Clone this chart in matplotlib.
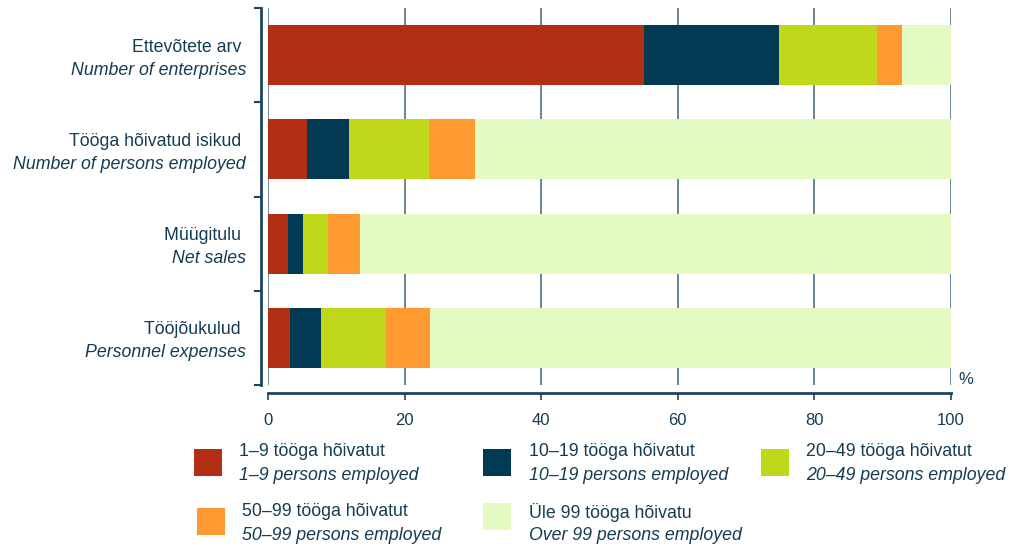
import matplotlib
matplotlib.use("Agg")
import matplotlib.pyplot as plt
from matplotlib.patches import Rectangle
import numpy as np

plt.rcParams['font.family'] = ['Liberation Sans', 'DejaVu Sans']

cats_et = ["Ettevõtete arv ", "Tööga hõivatud isikud ", "Müügitulu ", "Tööjõukulud "]
cats_en = ["Number of enterprises", "Number of persons employed", "Net sales", "Personnel expenses"]

series_et = ["1–9 tööga hõivatut", "10–19 tööga hõivatut", "20–49 tööga hõivatut",
             "50–99 tööga hõivatut", "Üle 99 tööga hõivatu"]
series_en = ["1–9 persons employed", "10–19 persons employed", "20–49 persons employed",
             "50–99 persons employed", "Over 99 persons employed"]

s1_9 = [55.0, 5.7, 2.9, 3.2]
s10_19 = [19.8, 6.1, 2.2, 4.6]
s20_49 = [14.4, 11.8, 3.7, 9.5]
s50_99 = [3.6, 6.7, 4.7, 6.4]
s_over99 = [7.2, 69.7, 86.5, 76.3]

colors = ["#b22e15", "#023a54", "#bfd91a", "#ff9a33", "#e3fac3"]
txt = "#143c52"
axc = "#1d4560"
FS = 12.8

fig = plt.figure(figsize=(10.10, 5.44), dpi=100)
ax = fig.add_axes([268/1010, 1-385/544, (951-268)/1010, 377/544])

data = [s1_9, s10_19, s20_49, s50_99, s_over99]
y = np.arange(len(cats_et))
left = np.zeros(len(cats_et))
for vals, c in zip(data, colors):
    ax.barh(y, vals, left=left, height=0.637, color=c, zorder=2, linewidth=0)
    left += np.array(vals)

ax.set_xlim(0, 100)
ax.set_ylim(3.5, -0.5)
ax.set_xticks(np.arange(0, 101, 20))
ax.tick_params(axis='x', direction='out', length=5, width=1.2, color=axc,
               labelsize=12, labelcolor=txt, pad=9)
ax.xaxis.grid(True, color="#4f6f84", linewidth=1.2, zorder=0)
ax.set_axisbelow(True)

ax.set_yticks(y)
ax.set_yticklabels([])
ax.tick_params(axis='y', which='major', length=0)
ax.set_yticks(np.arange(-0.5, 3.6, 1), minor=True)
ax.tick_params(axis='y', which='minor', direction='out', length=5, width=1.5, color=axc)

for s in ['top', 'right']:
    ax.spines[s].set_visible(False)
ax.spines['left'].set_position(('outward', 5))
ax.spines['bottom'].set_position(('outward', 6))
for s in ['left', 'bottom']:
    ax.spines[s].set_color(axc)
    ax.spines[s].set_linewidth(2)

for i in range(len(cats_et)):
    ax.annotate(cats_et[i], xy=(0, i), xycoords=('axes fraction', 'data'),
                xytext=(-22, 8), textcoords='offset pixels', ha='right', va='center',
                fontsize=FS, color=txt)
    ax.annotate(cats_en[i], xy=(0, i), xycoords=('axes fraction', 'data'),
                xytext=(-22, -15), textcoords='offset pixels', ha='right', va='center',
                fontsize=FS, color=txt, style='italic')

fig.text(958/1010, 1-380/544, "%", fontsize=12, color=txt, ha='left', va='center')

# legend: (patch x, patch y top, text x, first text line y)
W, H = 1010, 544
positions = [(194, 449, 239, 452), (483, 449, 529, 452), (761, 449, 806, 452),
             (197, 508, 242, 512), (483, 503, 529, 512)]
for k, (px, py, tx, ty) in enumerate(positions):
    fig.add_artist(Rectangle((px/W, 1-(py+27)/H), 28/W, 27/H, transform=fig.transFigure,
                             facecolor=colors[k], edgecolor='none'))
    fig.text(tx/W, 1-ty/H, series_et[k], fontsize=FS, color=txt, ha='left', va='center')
    fig.text(tx/W, 1-(ty+23)/H, series_en[k], fontsize=FS, color=txt, ha='left', va='center',
             style='italic')

fig.savefig("out.png", dpi=100)
